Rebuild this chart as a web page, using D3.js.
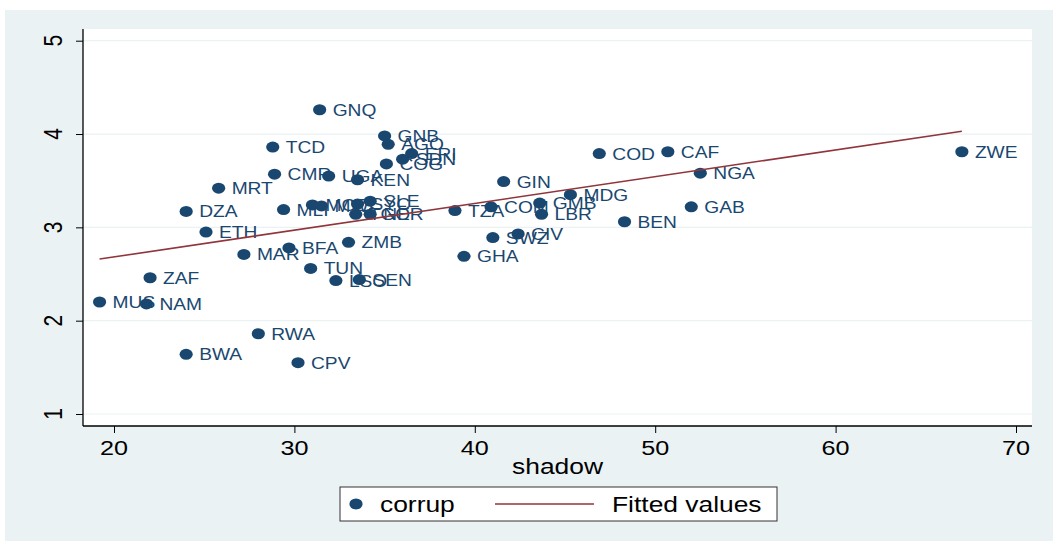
<!DOCTYPE html>
<html>
<head>
<meta charset="utf-8">
<script src="https://cdn.jsdelivr.net/npm/d3@7"></script>
<style>
  html, body { margin: 0; padding: 0; background: #ffffff; }
  svg { display: block; font-family: "Liberation Sans", Arial, sans-serif; }
</style>
</head>
<body>
<svg id="chart" width="1053" height="541"></svg>
<script>
// Country codes, shadow economy size (x) and corruption score (y)
const countries = ["GNQ","GNB","AGO","ERI","SDN","COG","TCD","CMR","UGA","KEN","MRT","GIN",
  "COD","CAF","NGA","ZWE","MDG","GMB","LBR","COM","TZA","GAB","BEN","DZA","ETH","MLI",
  "MOZ","MWI","SYC","SLE","TGO","NER","ZMB","BFA","MAR","TUN","LSO","SEN","SWZ","CIV",
  "GHA","ZAF","MUS","NAM","RWA","BWA","CPV"];
const shadow = [31.4,35.0,35.2,36.5,36.0,35.1,28.8,28.9,31.9,33.5,25.8,41.6,
  46.9,50.7,52.5,67.0,45.3,43.6,43.7,40.9,38.9,52.0,48.3,24.0,25.1,29.4,
  31.0,31.5,33.5,34.2,33.4,34.2,33.0,29.7,27.2,30.9,32.3,33.6,41.0,42.4,
  39.4,22.0,19.2,21.8,28.0,24.0,30.2];
const corrup = [4.26,3.98,3.89,3.79,3.73,3.68,3.86,3.57,3.55,3.51,3.42,3.49,
  3.79,3.81,3.58,3.81,3.35,3.26,3.14,3.22,3.18,3.22,3.06,3.17,2.95,3.19,
  3.24,3.23,3.25,3.28,3.14,3.14,2.84,2.78,2.71,2.56,2.43,2.44,2.89,2.93,
  2.69,2.46,2.20,2.18,1.86,1.64,1.55];

// Linear fit, evaluated at the smallest and largest shadow value
const fitX = [19.2, 67.0];
const fitY = [2.66, 4.03];

const xTicks = [20, 30, 40, 50, 60, 70];
const yTicks = [1, 2, 3, 4, 5];
const xTitle = "shadow";
const legendLabels = ["corrup", "Fitted values"];

// Layout
const W = 1053, H = 541;
const SX = 1.2;                 // horizontal text stretch
const plot = { left: 83, right: 1032, top: 29, bottom: 426 };
const navy = "#1a476f", maroon = "#90353b", bg = "#eaf2f3";

const x = d3.scaleLinear().domain([20, 70]).range([114, 1016]);
const y = d3.scaleLinear().domain([1, 5]).range([414, 40.7]);

const svg = d3.select("#chart");

// outer graph region
svg.append("rect").attr("x", 0).attr("y", 0).attr("width", W).attr("height", H).attr("fill", "#ffffff");
svg.append("rect").attr("x", 5).attr("y", 10).attr("width", W - 5).attr("height", H - 10).attr("fill", bg);

// plot region
svg.append("rect")
  .attr("x", plot.left).attr("y", plot.top)
  .attr("width", plot.right - plot.left).attr("height", plot.bottom - plot.top)
  .attr("fill", "#ffffff");

// horizontal grid lines
svg.append("g").selectAll("line").data(yTicks).join("line")
  .attr("x1", plot.left).attr("x2", plot.right)
  .attr("y1", d => y(d)).attr("y2", d => y(d))
  .attr("stroke", bg).attr("stroke-width", 1.2);

// y axis
const yAxis = svg.append("g").attr("transform", `translate(${plot.left},0)`)
  .call(d3.axisLeft(y).tickValues(yTicks).tickSize(7).tickSizeOuter(0).tickFormat(""));
yAxis.select(".domain").remove();
yAxis.selectAll(".tick line").attr("stroke", "#000").attr("stroke-width", 1);
svg.append("line").attr("x1", plot.left).attr("x2", plot.left)
  .attr("y1", plot.top).attr("y2", plot.bottom).attr("stroke", "#000").attr("stroke-width", 1.3);
svg.append("g").selectAll("text").data(yTicks).join("text")
  .attr("transform", d => `translate(62,${y(d)}) scale(${SX},1) rotate(-90)`)
  .attr("text-anchor", "middle")
  .attr("font-size", 21).attr("fill", "#000")
  .text(d => d);

// x axis
const xAxis = svg.append("g").attr("transform", `translate(0,${plot.bottom})`)
  .call(d3.axisBottom(x).tickValues(xTicks).tickSize(7).tickSizeOuter(0).tickFormat(""));
xAxis.select(".domain").remove();
xAxis.selectAll(".tick line").attr("stroke", "#000").attr("stroke-width", 1);
svg.append("line").attr("x1", plot.left).attr("x2", plot.right)
  .attr("y1", plot.bottom).attr("y2", plot.bottom).attr("stroke", "#000").attr("stroke-width", 1.3);
svg.append("g").selectAll("text").data(xTicks).join("text")
  .attr("transform", d => `translate(${x(d)},455) scale(${SX},1)`)
  .attr("text-anchor", "middle")
  .attr("font-size", 21).attr("fill", "#000")
  .text(d => d);
svg.append("text")
  .attr("transform", `translate(${(plot.left + plot.right) / 2},474) scale(${SX},1)`)
  .attr("text-anchor", "middle")
  .attr("font-size", 22).attr("fill", "#000")
  .text(xTitle);

// data
const pts = countries.map((c, i) => ({ c, xv: shadow[i], yv: corrup[i] }));

// scatter markers and country labels
const gPts = svg.append("g");
gPts.selectAll("ellipse").data(pts).join("ellipse")
  .attr("cx", d => x(d.xv)).attr("cy", d => y(d.yv))
  .attr("rx", 6.6).attr("ry", 5.5)
  .attr("fill", navy);
gPts.selectAll("text").data(pts).join("text")
  .attr("transform", d => `translate(${x(d.xv) + 13},${y(d.yv) + 6}) scale(${SX},1)`)
  .attr("font-size", 16).attr("fill", navy)
  .text(d => d.c);

// fitted line
svg.append("path")
  .datum(fitX.map((v, i) => [v, fitY[i]]))
  .attr("d", d3.line().x(d => x(d[0])).y(d => y(d[1])))
  .attr("fill", "none").attr("stroke", maroon).attr("stroke-width", 1.6);

// legend
const lg = svg.append("g");
lg.append("rect").attr("x", 340).attr("y", 487).attr("width", 437).attr("height", 34)
  .attr("fill", "#ffffff").attr("stroke", "#333").attr("stroke-width", 1);
lg.append("ellipse").attr("cx", 356).attr("cy", 504).attr("rx", 6.6).attr("ry", 5.5).attr("fill", navy);
lg.append("text").attr("transform", `translate(380,512) scale(${SX},1)`)
  .attr("font-size", 22).attr("fill", "#000").text(legendLabels[0]);
lg.append("line").attr("x1", 495).attr("x2", 594).attr("y1", 504).attr("y2", 504)
  .attr("stroke", maroon).attr("stroke-width", 1.6);
lg.append("text").attr("transform", `translate(612,512) scale(${SX},1)`)
  .attr("font-size", 22).attr("fill", "#000").text(legendLabels[1]);
</script>
</body>
</html>
